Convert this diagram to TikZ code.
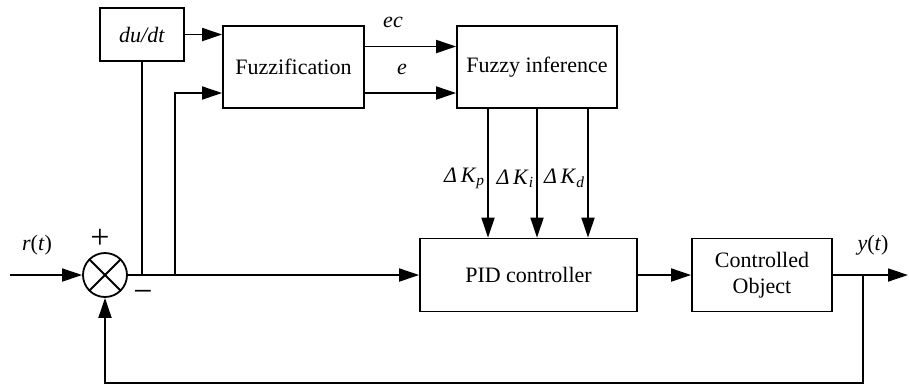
\documentclass[tikz,border=0pt]{standalone}
\usepackage{fontspec}
\setmainfont{Liberation Serif}
\usetikzlibrary{arrows.meta}
\tikzset{
    block/.style={draw, line width=0.9pt, align=center, inner sep=0pt, font=\fontsize{11}{13}\selectfont},
    lbl/.style={font=\fontsize{11}{13}\selectfont, inner sep=1pt},
    arr/.style={-{Triangle[length=10pt, width=6.5pt]}, line width=0.9pt},
}
\begin{document}
\begin{tikzpicture}[x=0.5pt, y=-0.5pt, line width=0.9pt]
    \useasboundingbox (0,0) rectangle (909,388);
    \node[block, minimum width=42pt, minimum height=26.5pt] (dudt) at (142, 34.5) {\textit{du/dt}};
    \node[block, minimum width=70.5pt, minimum height=41pt] (fuzz) at (293.5, 67) {Fuzzification};
    \node[block, minimum width=80pt, minimum height=41pt] (infer) at (537, 67) {Fuzzy inference};
    \node[block, minimum width=108.5pt, minimum height=36.5pt] (pid) at (528.5, 275) {PID controller};
    \node[block, minimum width=70pt, minimum height=36.5pt] (plant) at (762, 275) {Controlled\\Object};
    \node[draw, circle, minimum size=22pt, inner sep=0pt,
        path picture={\draw (path picture bounding box.north west) -- (path picture bounding box.south east)
            (path picture bounding box.north east) -- (path picture bounding box.south west);}] (sum) at (105, 275) {};
    \coordinate (rin) at (10, 275);
    \coordinate (br) at (175, 275);
    \coordinate (ybr) at (863, 275);
    \coordinate (yout) at (908, 275);
    \coordinate (fbk) at (863, 383);
    \node[lbl] (rlbl) at (37, 245) {\textit{r}(\textit{t})};
    \node[lbl] (ylbl) at (873, 245) {\textit{y}(\textit{t})};
    \node[lbl, font=\fontsize{17}{17}\selectfont] (plus) at (100, 239) {+};
    \node[lbl, font=\fontsize{17}{17}\selectfont] (minus) at (143, 296) {−};
    \node[lbl] (eclbl) at (393, 22) {\textit{ec}};
    \node[lbl] (elbl) at (402, 69) {\textit{e}};
    \draw[arr] (rin) -- (sum.west);
    \draw[arr] (sum) -- (pid);
    \draw[arr] (pid) -- (plant);
    \draw[arr] (plant.east) -- (yout);
    \draw[arr] (ybr) -- (fbk) -| (sum.south);
    \draw (dudt.south) -- (dudt.south |- sum);
    \draw[arr] (br) |- ([yshift=-13pt]fuzz.west);
    \draw[arr] (dudt.east) -- (dudt.east -| fuzz.west);
    \draw[arr] ([yshift=10.25pt]fuzz.east) -- ([yshift=10.25pt]infer.west);
    \draw[arr] ([yshift=-13pt]fuzz.east) -- ([yshift=-13pt]infer.west);
    \draw[arr] ([xshift=-24.5pt]infer.south) -- ([xshift=-24.5pt]infer.south |- pid.north)
        node[lbl, left, pos=0.54] (kp) {\textit{Δ\,K}\textsubscript{\textit{p}}};
    \draw[arr] (infer.south) -- (infer.south |- pid.north)
        node[lbl, left, pos=0.54] (ki) {\textit{Δ\,K}\textsubscript{\textit{i}}};
    \draw[arr] ([xshift=25.5pt]infer.south) -- ([xshift=25.5pt]infer.south |- pid.north)
        node[lbl, left, pos=0.54] (kd) {\textit{Δ\,K}\textsubscript{\textit{d}}};
\end{tikzpicture}
\end{document}
